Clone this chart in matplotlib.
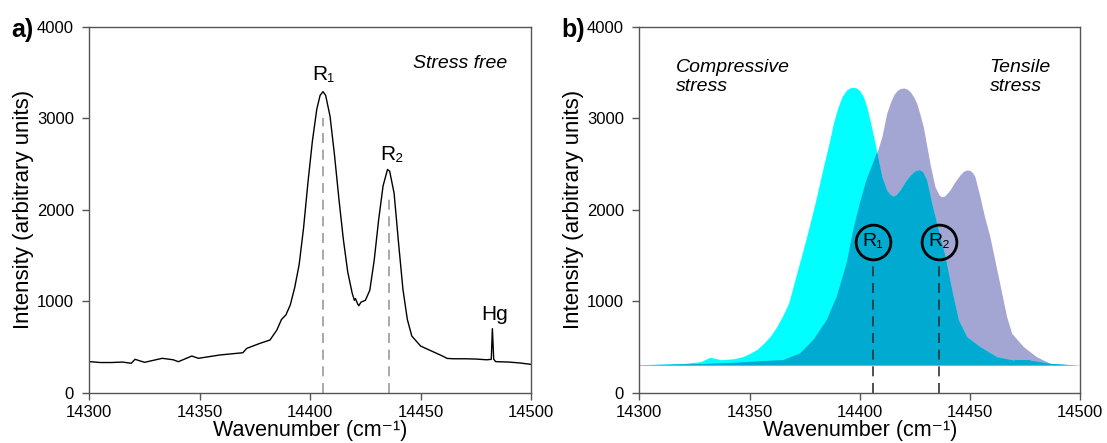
import matplotlib
matplotlib.use('Agg')
import matplotlib.pyplot as plt
import numpy as np

plt.rcParams['font.family'] = ['Liberation Sans', 'DejaVu Sans']

# a) stress free ruby spectrum (read off the picture)
wn_a = [14300, 14305, 14310, 14315, 14319, 14320.7, 14325, 14333, 14338, 14340.3,
        14346.4, 14349.4, 14359, 14369.5, 14371.3, 14377.3, 14381.8, 14384.9, 14387,
        14389, 14391, 14393, 14395, 14397, 14399, 14401, 14403, 14404.5, 14405.8,
        14407, 14409, 14411, 14413, 14415, 14417, 14419, 14420, 14420.5, 14421.5,
        14422, 14423, 14425, 14427, 14429, 14431, 14433, 14435, 14436, 14438, 14440,
        14442, 14444, 14446, 14450, 14455, 14460, 14462, 14465, 14470, 14475, 14480,
        14482, 14482.5, 14483.1, 14484, 14490, 14495, 14500]
int_a = [340, 330, 330, 335, 322, 365, 332, 376, 360, 339,
         401, 376, 412, 437, 485, 540, 576, 685, 800,
         850, 960, 1150, 1400, 1800, 2300, 2750, 3100, 3250, 3290,
         3250, 3020, 2600, 2120, 1680, 1320, 1090, 1010, 1030, 970,
         950, 990, 1010, 1120, 1450, 1890, 2260, 2440, 2420, 2180, 1640,
         1130, 800, 620, 510, 455, 400, 375, 371, 371, 368, 360,
         365, 700, 365, 340, 335, 325, 310]

# b) compressive (cyan) and tensile (lavender) spectra
base_b = 300
wn_comp = [14300, 14320, 14328, 14332, 14337, 14343, 14347, 14350.2, 14353.5, 14356.4,
           14359.5, 14362.3, 14365, 14367.7, 14371.4, 14375.9, 14379.7, 14383.5, 14386,
           14388, 14390, 14392, 14394, 14395.5, 14397, 14398.5, 14400, 14401.6, 14403,
           14404.6, 14406.9, 14408.4, 14410, 14412.2, 14414, 14415.2, 14416.5, 14418.3,
           14420.5, 14422.8, 14425, 14427, 14428.5, 14430.3, 14432.6, 14435.6, 14438.7,
           14441.7, 14444.7, 14448.5, 14454.5, 14462.1, 14469.7, 14477.2, 14486.3, 14500]
int_comp = [305, 320, 340, 388, 360, 372, 395, 430, 475, 540,
            620, 721, 840, 977, 1305, 1705, 2070, 2470, 2720,
            2944, 3110, 3240, 3308, 3332, 3338, 3330, 3300, 3235, 3140,
            2980, 2729, 2543, 2360, 2210, 2160, 2150, 2165, 2215,
            2300, 2375, 2425, 2436, 2415, 2325, 2070, 1778, 1486,
            1122, 795, 612, 503, 393, 357, 357, 321, 300]
wn_tens = [14300, 14330, 14345, 14355, 14365.3, 14372.9, 14378.9, 14385, 14389.5, 14394,
           14397, 14400, 14403, 14407.7, 14410, 14412.2, 14414, 14415.5, 14417, 14418.5,
           14420, 14421.5, 14423, 14424.5, 14425.8, 14427.2, 14428.8, 14431.8, 14434.1,
           14436, 14437.1, 14438.5, 14440.9, 14443, 14445.4, 14447, 14448.5, 14450,
           14451.3, 14452.2, 14454.5, 14456.5, 14459, 14462.8, 14466.6, 14468.9, 14474.2,
           14480.2, 14486.3, 14500]
int_tens = [305, 315, 330, 345, 357, 430, 576, 795, 1049, 1414,
            1778, 2070, 2325, 2617, 2798, 3053, 3180, 3260, 3305, 3325,
            3330, 3318, 3285, 3230, 3163, 3050, 2907, 2507, 2251,
            2160, 2142, 2150, 2215, 2300, 2379, 2420, 2434, 2430,
            2400, 2361, 2142, 1930, 1705, 1268, 831, 649, 503,
            393, 321, 300]

r_pos = [14405.8, 14435.8]
r_names = ['R₁', 'R₂']

xticks = [14300, 14350, 14400, 14450, 14500]
yticks = [0, 1000, 2000, 3000, 4000]

fig = plt.figure(figsize=(11.07, 4.43), dpi=100)
ax1 = fig.add_axes([0.0807, 0.1135, 0.399, 0.8262])
ax2 = fig.add_axes([0.5775, 0.1135, 0.3984, 0.8262])

for ax in (ax1, ax2):
    ax.set_xlim(14300, 14500)
    ax.set_ylim(0, 4000)
    ax.set_xticks(xticks)
    ax.set_yticks(yticks)
    for s in ax.spines.values():
        s.set_color('#555555')
        s.set_linewidth(1)
    ax.tick_params(direction='out', length=5, width=1, color='#555555', labelsize=12)
    ax.tick_params(axis='y', pad=6)
    ax.tick_params(axis='x', pad=4)
    ax.set_xlabel('Wavenumber (cm⁻¹)', fontsize=15.5, labelpad=0)
    ax.set_ylabel('Intensity (arbitrary units)', fontsize=16, labelpad=2)

# panel a
ax1.plot(wn_a, int_a, color='black', lw=1)
ax1.vlines(r_pos[0], 0, 3000, color='#999999', lw=1.2, linestyles=(0, (6, 4)))
ax1.vlines(r_pos[1], 0, 2145, color='#999999', lw=1.2, linestyles=(0, (6, 4)))
ax1.text(14406, 3418, 'R₁', fontsize=15, ha='center', va='baseline')
ax1.text(14437, 2545, 'R₂', fontsize=15, ha='center', va='baseline')
ax1.text(14483.4, 793, 'Hg', fontsize=15, ha='center', va='baseline')
ax1.text(14446.4, 3545, 'Stress free', fontsize=14, style='italic', ha='left', va='baseline')

# panel b
lav = ax2.fill_between(wn_tens, base_b, int_tens, color='#A3A6D3', lw=0)
ax2.fill_between(wn_comp, base_b, int_comp, color='#00FFFF', lw=0)
over = ax2.fill_between(wn_comp, base_b, int_comp, color='#00AAD0', lw=0)
over.set_clip_path(lav.get_paths()[0], ax2.transData)

for xr, name in zip(r_pos, r_names):
    ax2.vlines(xr, 0, 1461, color='#333333', lw=1.2, linestyles=(0, (6, 4)))
    ax2.plot([xr], [1650], marker='o', markersize=25, markerfacecolor='none',
             markeredgecolor='black', markeredgewidth=2)
    ax2.text(xr, 1650, name, fontsize=14, ha='center', va='center')

ax2.text(14316.4, 3300, 'Compressive\nstress', fontsize=14, style='italic',
         ha='left', va='baseline', linespacing=1.1)
ax2.text(14458.9, 3300, 'Tensile\nstress', fontsize=14, style='italic',
         ha='left', va='baseline', linespacing=1.1)

fig.text(0.0106, 0.917, 'a)', fontsize=18, fontweight='bold', va='baseline')
fig.text(0.5074, 0.917, 'b)', fontsize=18, fontweight='bold', va='baseline')

fig.savefig('out.png', dpi=100)
